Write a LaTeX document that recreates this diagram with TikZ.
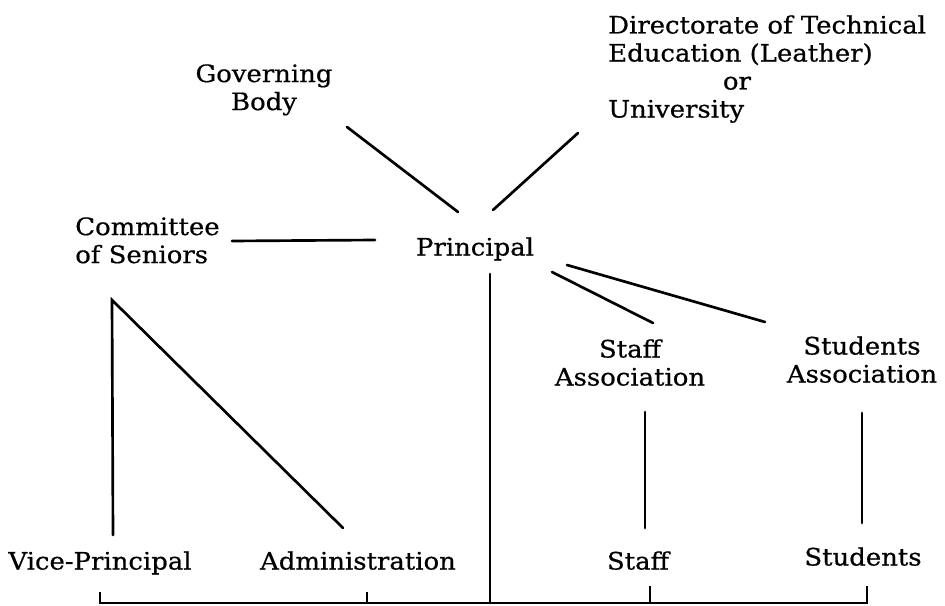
\documentclass[tikz,border=0pt]{standalone}
\usepackage{fontspec}
\setmainfont{DejaVu Serif}[FakeStretch=1.08, FakeBold=0.6]
\usepackage{tikz}
\usetikzlibrary{calc}

\begin{document}
\begin{tikzpicture}[x=0.75pt, y=-0.75pt,
		label/.style={inner sep=0pt, font=\fontsize{18}{21}\selectfont},
		link/.style={line width=2pt, line cap=round},
		bus/.style={line width=1.4pt}]
			%%%%% START %%%%%
			
			\fill[white] (0, 0) rectangle (945, 606);
			\useasboundingbox (0, 0) rectangle (945, 606);
			
			\node[label, anchor=north, align=center] (gov) at (264, 64) {Governing\\Body};
			\node[label, anchor=north west, align=left] (dir) at (608, 15) {Directorate of Technical\\Education (Leather)\\\hspace*{86pt}or\\University};
			\node[label, anchor=north west, align=left] (committee) at (75, 217) {Committee\\of Seniors};
			\node[label, anchor=north] (principal) at (475, 237) {Principal};
			\node[label, anchor=north, align=center] (staffassoc) at (630, 339) {Staff\\Association};
			\node[label, anchor=north, align=center] (studassoc) at (862, 336) {Students\\Association};
			
			\node[label, anchor=north] (vice) at (100, 551) {Vice-Principal};
			\node[label, anchor=north] (admin) at (358, 551) {Administration};
			\node[label, anchor=north] (staff) at (638, 551) {Staff};
			\node[label, anchor=north] (students) at (863, 547) {Students};
			
			\draw[link] ([shift={(83, 63)}]gov.north) -- ([shift={(-17, -25)}]principal.north);
			\draw[link] ([shift={(-30, 118)}]dir.north west) -- ([shift={(18, -27)}]principal.north);
			\draw[link] ([shift={(157, 24)}]committee.north west) -- ([shift={(-100, 3)}]principal.north);
			\draw[link] ([shift={(77, 35)}]principal.north) -- ([shift={(23, -16)}]staffassoc.north);
			\draw[link] ([shift={(92, 28)}]principal.north) -- ([shift={(-97, -14)}]studassoc.north);
			
			\coordinate (apex) at ([shift={(37, 83)}]committee.north west);
			\draw[link] ([shift={(13, -16)}]vice.north) -- (apex) -- ([shift={(-15, -23)}]admin.north);
			
			\draw[link] ([shift={(15, 73)}]staffassoc.north) -- ([shift={(7, -23)}]staff.north);
			\draw[link] ([shift={(0, 77)}]studassoc.north) -- ([shift={(-1, -24)}]students.north);
			
			\draw[link] ([shift={(15, 37)}]principal.north) -- ++(0, 329);
			
			\draw[bus] ([shift={(0, 41)}]vice.north) -- ++(0, 11) -| ([shift={(4, 39)}]students.north);
			\draw[bus] ([shift={(9, 41)}]admin.north) -- ++(0, 11);
			\draw[bus] ([shift={(12, 35)}]staff.north) -- ++(0, 17);
			
			%%%%% END %%%%%
		\end{tikzpicture}
\end{document}
